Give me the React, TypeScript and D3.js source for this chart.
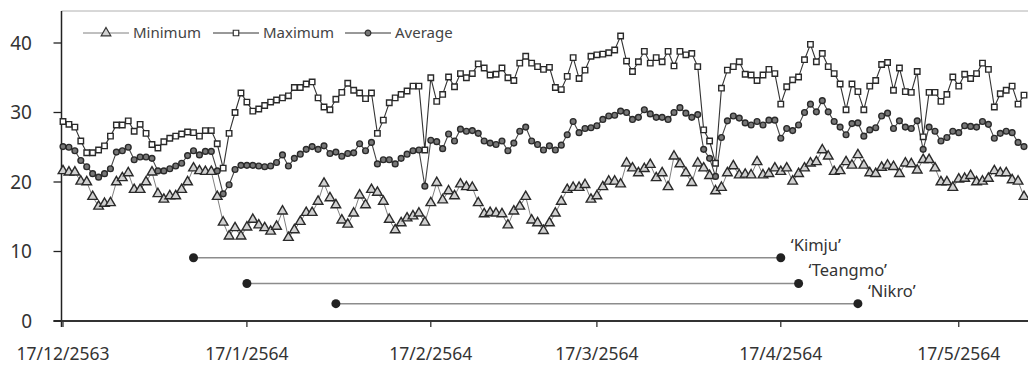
import React from 'react';
import * as d3 from 'd3';

// daily temperatures from 17/12/2563 (2020-12-17) onwards
const maxTemp = [
  28.7, 28.3, 27.9, 25.9, 24.2, 24.2, 24.6, 25.2, 26.6, 28.2, 28.2, 28.8, 27.3, 28.3, 27.0, 25.4, 24.9, 25.8, 26.3, 26.6,
  26.9, 27.2, 27.1, 26.6, 27.4, 27.4, 25.5, 22.0, 27.0, 30.0, 32.8, 31.5, 30.2, 30.5, 31.0, 31.5, 31.8, 32.1, 32.4, 33.6,
  33.6, 34.1, 34.4, 32.1, 30.8, 30.4, 31.9, 32.9, 34.2, 33.2, 32.8, 32.0, 32.8, 27.0, 28.9, 31.4, 32.1, 32.6, 33.1, 33.8,
  33.8, 24.6, 35.0, 31.6, 32.6, 35.1, 33.7, 35.6, 35.0, 35.6, 37.0, 36.4, 35.4, 35.5, 36.4, 35.0, 34.6, 37.1, 38.1, 37.1,
  36.6, 36.2, 36.5, 33.6, 33.3, 35.2, 37.9, 34.9, 36.1, 38.1, 38.3, 38.4, 38.6, 39.0, 41.0, 37.4, 35.9, 37.3, 38.8, 37.1,
  37.9, 37.3, 38.8, 36.7, 38.8, 38.3, 38.5, 36.6, 27.5, 25.9, 22.7, 33.5, 36.1, 36.6, 37.3, 35.5, 35.4, 34.6, 35.4, 36.2,
  35.6, 31.2, 33.7, 34.7, 35.1, 37.6, 39.8, 37.3, 38.5, 36.6, 35.6, 34.1, 30.4, 34.1, 33.0, 30.4, 33.8, 34.6, 36.9, 37.2,
  33.2, 36.4, 33.0, 32.9, 35.9, 26.5, 32.9, 32.9, 31.6, 32.6, 35.1, 33.8, 35.5, 34.9, 35.6, 37.1, 36.2, 30.8, 32.7, 33.2,
  33.8, 31.2, 32.5,
];
const avgTemp = [
  25.1, 25.0, 24.5, 23.1, 22.2, 21.2, 20.7, 21.2, 21.9, 24.3, 24.5, 25.0, 23.2, 23.6, 23.6, 23.4, 21.6, 21.6, 21.9, 22.3,
  22.7, 23.8, 24.5, 23.9, 24.4, 24.4, 21.6, 18.3, 19.6, 21.8, 22.4, 22.4, 22.4, 22.3, 22.2, 22.3, 22.8, 23.9, 22.3, 23.4,
  24.0, 24.7, 25.1, 24.7, 25.2, 24.1, 24.3, 23.7, 24.1, 24.2, 25.5, 24.5, 25.7, 22.6, 23.2, 23.2, 22.6, 23.4, 24.0, 24.5,
  24.6, 19.4, 26.0, 25.8, 24.8, 26.9, 25.9, 27.6, 27.3, 27.4, 27.0, 25.9, 25.6, 25.4, 25.9, 24.5, 25.6, 27.3, 27.9, 25.9,
  25.4, 24.6, 25.2, 24.6, 25.3, 26.8, 28.7, 27.1, 27.7, 27.8, 28.1, 29.0, 29.5, 29.6, 30.2, 30.0, 29.0, 29.3, 30.4, 29.8,
  29.3, 29.3, 29.0, 30.0, 30.7, 29.9, 29.3, 29.7, 24.7, 23.4, 20.8, 26.4, 28.8, 29.5, 29.2, 28.5, 28.2, 28.7, 28.2, 28.9,
  28.9, 26.3, 27.7, 27.4, 28.2, 30.0, 31.2, 30.1, 31.7, 30.1, 28.7, 27.9, 26.8, 28.4, 28.5, 26.6, 27.5, 27.8, 29.5, 29.9,
  27.7, 28.8, 27.9, 27.7, 28.8, 24.7, 27.9, 27.3, 25.9, 26.4, 27.3, 27.1, 28.1, 28.0, 27.9, 28.7, 28.3, 26.3, 27.0, 27.3,
  27.1, 25.7, 25.1,
];
const minTemp = [
  21.6, 21.4, 21.4, 20.1, 20.0, 17.9, 16.5, 16.9, 17.0, 20.0, 20.6, 21.3, 18.9, 18.9, 20.0, 21.4, 18.3, 17.5, 18.0, 18.0,
  18.9, 20.0, 22.0, 21.6, 21.5, 21.5, 17.9, 14.2, 12.2, 13.4, 12.2, 13.5, 14.6, 13.8, 13.4, 12.9, 13.6, 15.8, 12.0, 13.1,
  14.3, 15.6, 15.6, 17.2, 19.8, 17.7, 16.7, 14.5, 13.9, 15.5, 18.1, 16.7, 18.9, 18.5, 17.2, 14.6, 13.1, 14.1, 14.8, 15.1,
  15.5, 14.2, 17.0, 19.9, 17.4, 18.7, 18.0, 19.7, 19.3, 19.2, 17.0, 15.4, 15.6, 15.5, 15.4, 13.8, 15.8, 16.5, 17.9, 14.5,
  14.1, 13.0, 14.1, 15.5, 17.2, 18.9, 19.2, 19.2, 19.6, 17.5, 18.0, 19.3, 20.1, 20.1, 19.7, 22.7, 22.0, 21.3, 21.9, 22.5,
  20.6, 21.3, 19.3, 23.7, 22.6, 21.3, 19.9, 22.7, 22.0, 20.9, 18.7, 19.2, 21.3, 22.3, 21.0, 21.1, 21.0, 22.9, 21.0, 21.2,
  22.0, 21.5, 22.0, 20.1, 21.2, 22.0, 22.7, 22.9, 24.6, 23.7, 21.5, 21.6, 22.9, 22.4, 23.9, 22.4, 21.3, 21.2, 22.1, 22.4,
  22.2, 21.2, 22.7, 22.6, 21.7, 23.2, 23.2, 22.0, 20.0, 20.0, 19.2, 20.4, 20.5, 20.9, 20.0, 20.1, 20.5, 21.6, 21.3, 21.3,
  20.3, 20.1, 17.9,
];

const yTicks = [0, 10, 20, 30, 40];
const tickDates = [
  new Date(2020, 11, 17), new Date(2021, 0, 17), new Date(2021, 1, 17),
  new Date(2021, 2, 17), new Date(2021, 3, 17), new Date(2021, 4, 17),
];

// harvest periods of the cultivars
const cultivars = ['‘Kimju’', '‘Teangmo’', '‘Nikro’'];
const cultivarStart = [new Date(2021, 0, 8), new Date(2021, 0, 17), new Date(2021, 1, 1)];
const cultivarEnd = [new Date(2021, 3, 17), new Date(2021, 3, 20), new Date(2021, 3, 30)];
const cultivarLevel = [9.1, 5.4, 2.5];

const startDate = new Date(2020, 11, 17);
const dates = maxTemp.map((_, i) => d3.timeDay.offset(startDate, i));

const thaiDate = (d: Date) => `${d.getDate()}/${d.getMonth() + 1}/${d.getFullYear() + 543}`;

const W = 1028;
const H = 365;
const font = "'Noto Sans', 'DejaVu Sans', sans-serif";

const App: React.FC = () => {
  const x = d3.scaleTime()
    .domain([startDate, dates[dates.length - 1]])
    .range([63, 1024]);
  const y = d3.scaleLinear().domain([0, 40]).range([321, 43]);

  const left = 61.5;
  const bottom = y(0);
  const top = 11;

  const line = (vals: number[]) =>
    d3.line<number>().x((_, i) => x(dates[i])).y(d => y(d))(vals) || '';

  const tri = d3.symbol(d3.symbolTriangle, 40)() || '';
  const sq = d3.symbol(d3.symbolSquare, 30)() || '';
  const circ = d3.symbol(d3.symbolCircle, 26)() || '';

  const series = [
    { name: 'Minimum', vals: minTemp, path: tri, fill: '#d0d0d0', lineColor: '#808080', lineWidth: 1 },
    { name: 'Maximum', vals: maxTemp, path: sq, fill: '#ffffff', lineColor: '#333333', lineWidth: 1.1 },
    { name: 'Average', vals: avgTemp, path: circ, fill: '#777777', lineColor: '#444444', lineWidth: 1.1 },
  ];

  const legendX = [83, 213, 345];

  return (
    <svg width={W} height={H} style={{ position: 'absolute', left: 0, top: 0, background: '#fff' }}>
      {/* frame */}
      <line x1={left} x2={W} y1={top} y2={top} stroke="#b0b0b0" strokeWidth={1} />
      <line x1={left} x2={left} y1={top} y2={bottom + 6} stroke="#222" strokeWidth={1.5} />
      <line x1={left - 8} x2={W} y1={bottom} y2={bottom} stroke="#333" strokeWidth={2} />

      {/* y axis */}
      {yTicks.map(t => (
        <g key={t}>
          <line x1={left - 8} x2={left} y1={y(t)} y2={y(t)} stroke="#222" strokeWidth={1.3} />
          <text x={32} y={y(t)} dy="0.36em" textAnchor="end" fontFamily={font} fontSize={19} fill="#333">{t}</text>
        </g>
      ))}

      {/* x axis */}
      {tickDates.map((d, i) => (
        <g key={i}>
          <line x1={x(d)} x2={x(d)} y1={bottom} y2={bottom + 6} stroke="#333" strokeWidth={1.3} />
          <text x={x(d)} y={360} textAnchor="middle" fontFamily={font} fontSize={17.5} fill="#333">
            {thaiDate(d)}
          </text>
        </g>
      ))}

      {/* cultivar periods */}
      {cultivars.map((c, i) => {
        const yy = y(cultivarLevel[i]);
        const x0 = x(cultivarStart[i]);
        const x1 = x(cultivarEnd[i]);
        return (
          <g key={c}>
            <line x1={x0} x2={x1} y1={yy} y2={yy} stroke="#8c8c8c" strokeWidth={1.5} />
            <circle cx={x0} cy={yy} r={4.5} fill="#222" />
            <circle cx={x1} cy={yy} r={4.5} fill="#222" />
            <text x={x1 + 10} y={yy - 7} fontFamily={font} fontSize={16.5} fill="#333">{c}</text>
          </g>
        );
      })}

      {/* series lines */}
      {series.map(s => (
        <path key={s.name} d={line(s.vals)} fill="none" stroke={s.lineColor} strokeWidth={s.lineWidth} />
      ))}
      {/* markers */}
      {series.map(s => (
        <g key={s.name + '-m'}>
          {s.vals.map((v, i) => (
            <path key={i} d={s.path} transform={`translate(${x(dates[i])},${y(v)})`}
              fill={s.fill} stroke="#2a2a2a" strokeWidth={1.4} />
          ))}
        </g>
      ))}

      {/* legend */}
      {series.map((s, i) => (
        <g key={s.name + '-l'} transform={`translate(${legendX[i]},33)`}>
          <line x1={0} x2={46} y1={0} y2={0} stroke={i === 0 ? '#808080' : '#333'} strokeWidth={1} />
          <path d={s.path} transform="translate(23,0)" fill={s.fill} stroke="#333" strokeWidth={1.2} />
          <text x={50} y={0} dy="0.35em" fontFamily={font} fontSize={15} fill="#444">{s.name}</text>
        </g>
      ))}
    </svg>
  );
};

export default App;
